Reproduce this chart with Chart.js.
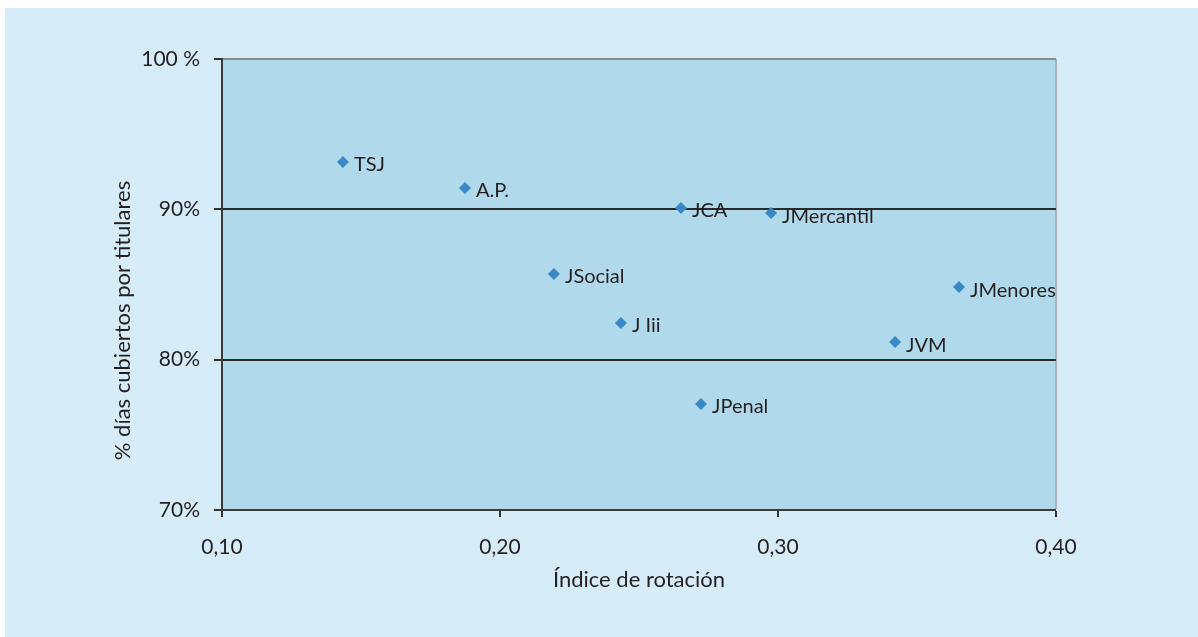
<!DOCTYPE html>
<html lang="es">
<head>
<meta charset="utf-8">
<script src="https://cdn.jsdelivr.net/npm/chart.js@4/dist/chart.umd.min.js"></script>
<style>
  html, body { margin: 0; padding: 0; background: #ffffff; }
  #wrap {
    position: absolute;
    left: 5px;
    top: 8px;
    width: 1193px;
    height: 629px;
    background: #d6edf9;
  }
</style>
</head>
<body>
<div id="wrap"><canvas id="rotacion"></canvas></div>
<script>
  // Órganos judiciales: índice de rotación vs % días cubiertos por titulares
  const organos = ["TSJ", "A.P.", "JCA", "JMercantil", "JSocial", "J Iii", "JPenal", "JVM", "JMenores"];
  const indiceRotacion = [0.1435, 0.1874, 0.2651, 0.2975, 0.2194, 0.2435, 0.2723, 0.3421, 0.3651];
  const diasCubiertos = [93.15, 91.42, 90.09, 89.75, 85.70, 82.44, 77.05, 81.17, 84.83];
  const xTicks = [0.1, 0.2, 0.3, 0.4];
  const yTicks = [70, 80, 90, 100];
  const yTitle = "% días cubiertos por titulares";

  const textColor = "#231f20";
  const fontFamily = "Lato, 'Open Sans', sans-serif";

  const points = indiceRotacion.map((x, i) => ({ x: x, y: diasCubiertos[i] }));

  const plotBackground = {
    id: "plotBackground",
    beforeDraw: function (chart) {
      const a = chart.chartArea;
      chart.ctx.save();
      chart.ctx.fillStyle = "#b0d9eb";
      chart.ctx.fillRect(a.left, a.top, a.right - a.left, a.bottom - a.top);
      chart.ctx.restore();
    },
  };

  const pointLabels = {
    id: "pointLabels",
    afterDatasetsDraw: function (chart) {
      const ctx = chart.ctx;
      const meta = chart.getDatasetMeta(0);
      ctx.save();
      ctx.font = "20px " + fontFamily;
      ctx.fillStyle = textColor;
      ctx.textAlign = "left";
      ctx.textBaseline = "middle";
      meta.data.forEach((pt, i) => {
        ctx.fillText(organos[i], pt.x + 11, pt.y + 3);
      });
      ctx.restore();
    },
  };

  // y-axis title sits a little below the middle of the plot
  const verticalTitle = {
    id: "verticalTitle",
    afterDraw: function (chart) {
      const ctx = chart.ctx;
      const a = chart.chartArea;
      ctx.save();
      ctx.translate(118, (a.top + a.bottom) / 2 + 36);
      ctx.rotate(-Math.PI / 2);
      ctx.font = "22px " + fontFamily;
      ctx.fillStyle = textColor;
      ctx.textAlign = "center";
      ctx.textBaseline = "middle";
      ctx.fillText(yTitle, 0, 0);
      ctx.restore();
    },
  };

  new Chart(document.getElementById("rotacion"), {
    type: "scatter",
    data: {
      datasets: [
        {
          label: "Órganos",
          data: points,
          pointStyle: "rectRot",
          pointRadius: 6,
          pointHoverRadius: 6,
          backgroundColor: "#3a88c8",
          borderColor: "#3a88c8",
          borderWidth: 0,
        },
      ],
    },
    options: {
      responsive: true,
      maintainAspectRatio: false,
      animation: false,
      layout: { padding: { top: 51, right: 142, bottom: 0, left: 0 } },
      plugins: {
        legend: { display: false },
        tooltip: { enabled: false },
      },
      scales: {
        x: {
          type: "linear",
          min: 0.1,
          max: 0.4,
          afterFit: function (scale) {
            scale.height = 127;
          },
          afterBuildTicks: function (scale) {
            scale.ticks = xTicks.map((v) => ({ value: v }));
          },
          ticks: {
            color: textColor,
            font: { family: fontFamily, size: 21 },
            padding: 18,
            maxRotation: 0,
            callback: function (value) {
              return value.toFixed(2).replace(".", ",");
            },
          },
          grid: {
            drawOnChartArea: true,
            tickLength: 7,
            lineWidth: function (c) {
              return c.tick && c.tick.value === 0.4 ? 2 : 0;
            },
            color: "#a9b4bd",
            tickColor: "#333333",
            tickWidth: 2,
          },
          border: { display: true, color: "#3a3a3a", width: 2 },
          title: {
            display: true,
            text: "Índice de rotación",
            color: textColor,
            font: { family: fontFamily, size: 22 },
            padding: { top: 0, bottom: 44 },
          },
        },
        y: {
          type: "linear",
          min: 70,
          max: 100,
          afterFit: function (scale) {
            scale.width = 217;
          },
          afterBuildTicks: function (scale) {
            scale.ticks = yTicks.map((v) => ({ value: v }));
          },
          ticks: {
            color: textColor,
            font: { family: fontFamily, size: 21 },
            padding: 14,
            callback: function (value) {
              return value === 100 ? "100 %" : value + "%";
            },
          },
          grid: {
            tickLength: 8,
            lineWidth: function (c) {
              if (!c.tick) return 0;
              if (c.tick.value === 70) return 0;
              return 2;
            },
            color: function (c) {
              return c.tick && c.tick.value === 100 ? "#8c8c8c" : "#2a2a2a";
            },
            tickColor: "#333333",
            tickWidth: 2,
          },
          border: { display: true, color: "#3a3a3a", width: 2 },
        },
      },
    },
    plugins: [plotBackground, pointLabels, verticalTitle],
  });
</script>
</body>
</html>
